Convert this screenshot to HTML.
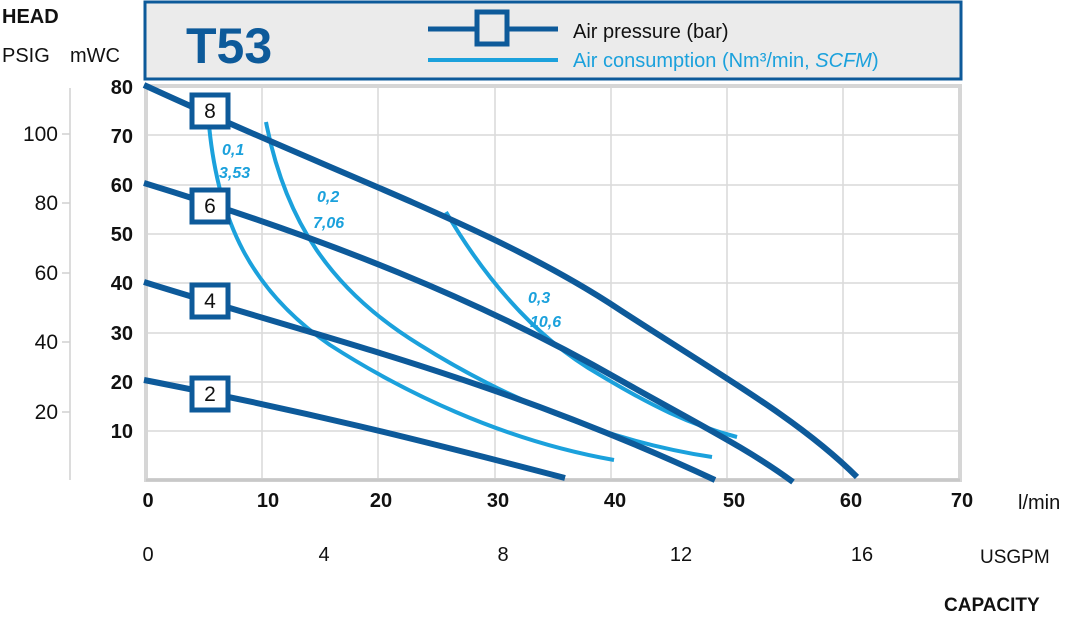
<!DOCTYPE html>
<html><head><style>
body{margin:0;background:#fff;}
svg text{font-family:"Liberation Sans",sans-serif;}
</style></head><body>
<svg width="1074" height="619" viewBox="0 0 1074 619" xmlns="http://www.w3.org/2000/svg">
<rect x="0" y="0" width="1074" height="619" fill="#fff"/>
<g stroke="#d9d9d9" stroke-width="1.5">
<line x1="262" y1="87" x2="262" y2="480"/><line x1="378" y1="87" x2="378" y2="480"/>
<line x1="495" y1="87" x2="495" y2="480"/><line x1="611" y1="87" x2="611" y2="480"/>
<line x1="727" y1="87" x2="727" y2="480"/><line x1="843" y1="87" x2="843" y2="480"/>
<line x1="146" y1="135" x2="960" y2="135"/><line x1="146" y1="185" x2="960" y2="185"/>
<line x1="146" y1="234" x2="960" y2="234"/><line x1="146" y1="283" x2="960" y2="283"/>
<line x1="146" y1="333" x2="960" y2="333"/><line x1="146" y1="382" x2="960" y2="382"/>
<line x1="146" y1="431" x2="960" y2="431"/>
</g>
<rect x="146" y="86" width="814" height="394" fill="none" stroke="#d6d6d6" stroke-width="4"/>
<line x1="146" y1="480" x2="960" y2="480" stroke="#c8c8c8" stroke-width="3"/>
<g stroke="#d0d0d0" stroke-width="1.5">
<line x1="70" y1="88" x2="70" y2="480"/>
<line x1="62" y1="134" x2="70" y2="134"/><line x1="62" y1="203" x2="70" y2="203"/>
<line x1="62" y1="273" x2="70" y2="273"/><line x1="62" y1="342" x2="70" y2="342"/>
<line x1="62" y1="412" x2="70" y2="412"/>
</g>
<rect x="145" y="2" width="816" height="77" fill="#ebebeb" stroke="#0d5a9a" stroke-width="3"/>
<text x="186" y="63" font-size="50" font-weight="bold" fill="#0d5a9a">T53</text>
<line x1="428" y1="29" x2="558" y2="29" stroke="#0d5a9a" stroke-width="5"/>
<rect x="477" y="12" width="30" height="32" fill="#ebebeb" stroke="#0d5a9a" stroke-width="5"/>
<line x1="428" y1="60" x2="558" y2="60" stroke="#1ba1dc" stroke-width="4"/>
<text x="573" y="38" font-size="20" fill="#111">Air pressure (bar)</text>
<text x="573" y="67" font-size="20" fill="#1ba1dc">Air consumption (Nm³/min, <tspan font-style="italic">SCFM</tspan>)</text>
<g font-size="20" fill="#111">
<text x="2" y="23" font-weight="bold">HEAD</text>
<text x="2" y="62">PSIG</text>
<text x="70" y="62">mWC</text>
</g>
<g font-size="20" font-weight="bold" fill="#111" text-anchor="end">
<text x="133" y="94">80</text><text x="133" y="143">70</text><text x="133" y="192">60</text>
<text x="133" y="241">50</text><text x="133" y="290">40</text><text x="133" y="340">30</text>
<text x="133" y="389">20</text><text x="133" y="438">10</text>
</g>
<g font-size="21" fill="#111" text-anchor="end">
<text x="58" y="141">100</text><text x="58" y="210">80</text><text x="58" y="280">60</text>
<text x="58" y="349">40</text><text x="58" y="419">20</text>
</g>
<g font-size="20" font-weight="bold" fill="#111" text-anchor="middle">
<text x="148" y="507">0</text><text x="268" y="507">10</text><text x="381" y="507">20</text>
<text x="498" y="507">30</text><text x="615" y="507">40</text><text x="734" y="507">50</text>
<text x="851" y="507">60</text><text x="962" y="507">70</text>
</g>
<text x="1018" y="509" font-size="20" fill="#111">l/min</text>
<g font-size="20" fill="#111" text-anchor="middle">
<text x="148" y="561">0</text><text x="324" y="561">4</text><text x="503" y="561">8</text>
<text x="681" y="561">12</text><text x="862" y="561">16</text>
</g>
<text x="980" y="563" font-size="19" fill="#111">USGPM</text>
<text x="944" y="611" font-size="19" font-weight="bold" fill="#111">CAPACITY</text>
<g fill="none" stroke="#1ba1dc" stroke-width="4">
<path d="M209,125 C218,220 250,290 330,345 C400,390 500,440 614,460"/>
<path d="M266,122 C285,220 330,290 420,345 C500,395 600,440 712,457"/>
<path d="M446,212 C480,270 530,335 600,375 C650,405 690,425 737,437"/>
</g>
<g fill="none" stroke="#0d5a9a" stroke-width="6">
<path d="M144,85 C350,180 500,230 620,310 C720,375 800,420 857,477"/>
<path d="M144,183 C330,240 480,300 620,380 C700,425 750,450 793,482"/>
<path d="M144,282 C330,340 500,380 715,480"/>
<path d="M144,380 C300,410 420,440 565,478"/>
</g>
<g fill="#fff" stroke="#0d5a9a" stroke-width="5">
<rect x="192" y="95" width="36" height="32"/>
<rect x="192" y="190" width="36" height="32"/>
<rect x="192" y="285" width="36" height="32"/>
<rect x="192" y="378" width="36" height="32"/>
</g>
<g font-size="21" fill="#111" text-anchor="middle">
<text x="210" y="118">8</text><text x="210" y="213">6</text>
<text x="210" y="308">4</text><text x="210" y="401">2</text>
</g>
<g font-size="16" font-weight="bold" font-style="italic" fill="#1ba1dc">
<text x="222" y="155">0,1</text><text x="219" y="178">3,53</text>
<text x="317" y="202">0,2</text><text x="313" y="228">7,06</text>
<text x="528" y="303">0,3</text><text x="530" y="327">10,6</text>
</g>
</svg>
</body></html>
